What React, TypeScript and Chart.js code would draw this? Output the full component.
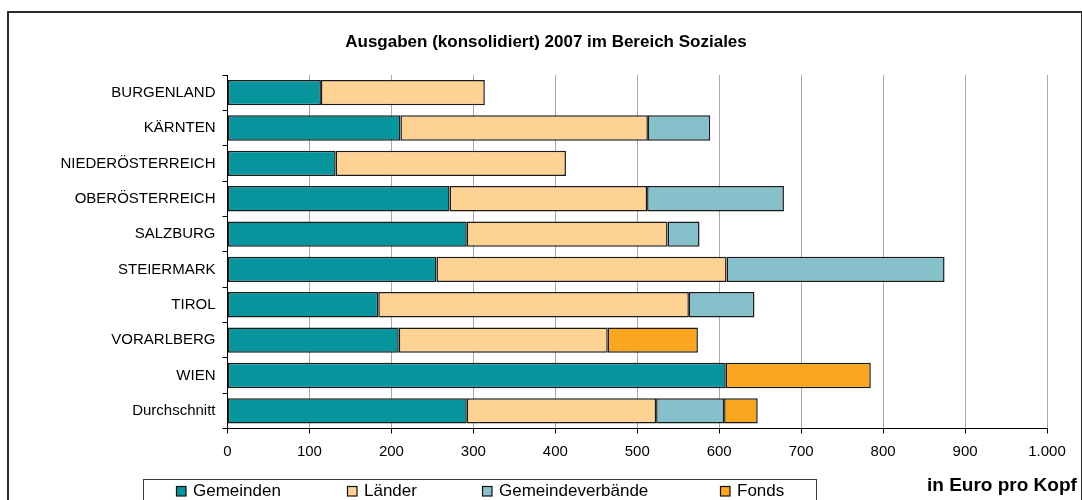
import React, { useEffect, useRef } from 'react';
import { Chart, registerables } from 'chart.js';

Chart.register(...registerables);

// ---- data ----
const categories = [
  'BURGENLAND',
  'KÄRNTEN',
  'NIEDERÖSTERREICH',
  'OBERÖSTERREICH',
  'SALZBURG',
  'STEIERMARK',
  'TIROL',
  'VORARLBERG',
  'WIEN',
  'Durchschnitt',
];
const gemeinden = [114, 211, 132, 271, 292, 255, 184, 209, 608, 292];
const laender = [200, 302, 281, 241, 245, 354, 379, 255, null, 231];
const gemeindeverbaende = [null, 76, null, 167, 39, 266, 80, null, null, 83];
const fonds = [null, null, null, null, null, null, null, 110, 177, 41];
const seriesLabels = ['Gemeinden', 'Länder', 'Gemeindeverbände', 'Fonds'];
const seriesColors = ['#07959D', '#FED292', '#86C0CA', '#FAA61F'];
const xTickValues = [0, 100, 200, 300, 400, 500, 600, 700, 800, 900, 1000];
const titleText = 'Ausgaben (konsolidiert) 2007 im Bereich Soziales';
const unitText = 'in Euro pro Kopf';

const FONT = '"Liberation Sans", Arial, Helvetica, sans-serif';

const fmt = (v: number) => String(v).replace(/\B(?=(\d{3})+(?!\d))/g, '.');

const legendPlugin = {
  id: 'boxLegend',
  afterDraw(chart: any) {
    const ctx = chart.ctx as CanvasRenderingContext2D;
    ctx.save();
    // legend frame
    ctx.strokeStyle = '#3a3a3a';
    ctx.lineWidth = 1;
    ctx.strokeRect(143.5, 479.5, 673, 40);
    const itemX = [176, 347, 482, 720];
    ctx.font = `17px ${FONT}`;
    ctx.textBaseline = 'middle';
    ctx.textAlign = 'left';
    chart.data.datasets.forEach((ds: any, i: number) => {
      const x = itemX[i];
      ctx.fillStyle = ds.backgroundColor;
      ctx.fillRect(x, 486, 10, 10);
      ctx.strokeStyle = '#111';
      ctx.lineWidth = 1.2;
      ctx.strokeRect(x + 0.5, 486.5, 9.5, 9.5);
      ctx.fillStyle = '#000';
      ctx.fillText(ds.label, x + 17, 491);
    });
    // unit label
    ctx.font = `bold 19px ${FONT}`;
    ctx.fillStyle = '#000';
    ctx.textAlign = 'left';
    ctx.fillText(unitText, 927, 486);
    ctx.restore();
  },
};

export default function App() {
  const ref = useRef<HTMLCanvasElement | null>(null);

  useEffect(() => {
    if (!ref.current) return;
    Chart.defaults.color = '#000';
    Chart.defaults.font.family = FONT;
    const seriesData = [gemeinden, laender, gemeindeverbaende, fonds];
    const chart = new Chart(ref.current, {
      type: 'bar',
      data: {
        labels: categories,
        datasets: seriesData.map((d, i) => ({
          label: seriesLabels[i],
          data: d as any,
          backgroundColor: seriesColors[i],
          borderColor: '#1a1a1a',
          borderWidth: 1.5,
          borderSkipped: false,
          barPercentage: 0.716,
          categoryPercentage: 1.0,
        })),
      },
      options: {
        indexAxis: 'y',
        responsive: false,
        animation: false,
        devicePixelRatio: 1,
        layout: { padding: { left: 45, right: 35, top: 0, bottom: 0 } },
        plugins: {
          legend: { display: false },
          tooltip: { enabled: false },
          title: {
            display: true,
            text: titleText,
            color: '#000',
            font: { family: FONT, size: 17, weight: 'bold', lineHeight: 1.2 },
            padding: { top: 32.5, bottom: 22.1 },
          },
        },
        scales: {
          x: {
            stacked: true,
            min: 0,
            max: 1000,
            afterBuildTicks: (scale: any) => {
              scale.ticks = xTickValues.map((v) => ({ value: v }));
            },
            afterFit: (scale: any) => {
              scale.height = 71.5;
            },
            ticks: {
              color: '#000',
              font: { family: FONT, size: 15 },
              padding: 9,
              maxRotation: 0,
              callback: (v: any) => fmt(Number(v)),
            },
            grid: {
              color: '#a8a8a8',
              lineWidth: 1,
              tickColor: '#000',
              tickLength: 5,
              drawTicks: true,
            },
            border: { display: true, color: '#000', width: 1 },
          },
          y: {
            stacked: true,
            afterFit: (scale: any) => {
              scale.width = 182.5;
            },
            ticks: {
              color: '#000',
              font: { family: FONT, size: 15 },
              padding: 7,
              autoSkip: false,
            },
            grid: {
              offset: true,
              drawOnChartArea: false,
              drawTicks: true,
              tickLength: 5,
              tickColor: '#000',
              color: '#000',
            },
            border: { display: true, color: '#000', width: 1 },
          },
        },
      },
      plugins: [legendPlugin],
    });
    return () => chart.destroy();
  }, []);

  return (
    <div
      style={{
        position: 'absolute',
        left: 0,
        top: 0,
        width: 1082,
        height: 500,
        overflow: 'hidden',
        background: '#fff',
      }}
    >
      <div
        style={{
          position: 'absolute',
          left: 7,
          top: 11,
          width: 1076,
          height: 540,
          boxSizing: 'border-box',
          border: '2px solid #2a2a2a',
        }}
      />
      <canvas
        ref={ref}
        width={1082}
        height={500}
        style={{ position: 'absolute', left: 0, top: 0, width: 1082, height: 500 }}
      />
    </div>
  );
}
